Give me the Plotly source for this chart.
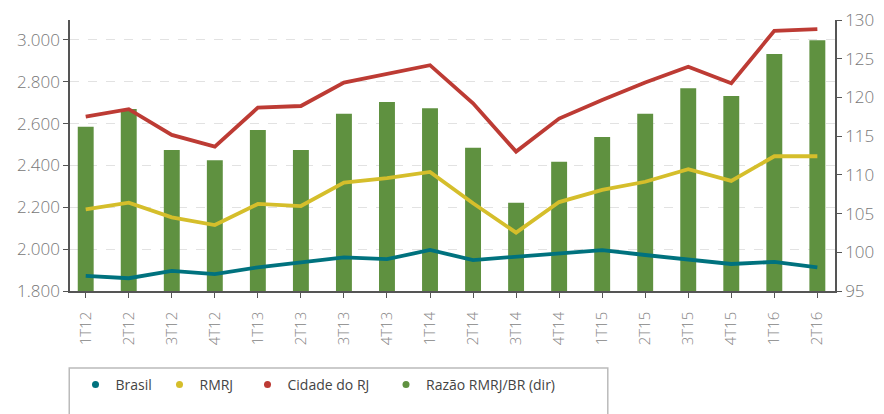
import plotly.graph_objects as go

quarters = ["1T12","2T12","3T12","4T12","1T13","2T13","3T13","4T13","1T14","2T14",
            "3T14","4T14","1T15","2T15","3T15","4T15","1T16","2T16"]
brasil = [1872,1861,1896,1881,1913,1935,1961,1952,1996,1948,1964,1977,1995,1972,1952,1929,1939,1913]
rmrj = [2190,2222,2152,2115,2216,2206,2318,2339,2369,2219,2079,2225,2283,2322,2382,2326,2444,2444]
cidade = [2633,2669,2546,2490,2676,2684,2796,2837,2879,2697,2466,2624,2713,2796,2872,2793,3043,3051]
razao = [116.2,118.5,113.2,111.9,115.8,113.2,117.9,119.4,118.6,113.5,106.4,111.7,114.9,117.9,121.2,120.2,125.6,127.4]

left_ticks = [1800,2000,2200,2400,2600,2800,3000]
right_ticks = [95,100,105,110,115,120,125,130]

C_BR = "#00727E"
C_RM = "#D5BE2B"
C_CI = "#BD3B34"
C_RZ = "#5F9140"

FONT = "Open Sans"
TICKCOL = "#777777"
x = list(range(len(quarters)))

fig = go.Figure()
# bars on primary (right-side) axis, lines on overlaying left axis so lines draw on top
fig.add_trace(go.Bar(x=x, y=razao, yaxis="y", marker=dict(color=C_RZ, line=dict(width=0)),
                     width=0.37, showlegend=False, name="Razão RMRJ/BR (dir)"))
for vals, col, nm in [(brasil, C_BR, "Brasil"), (rmrj, C_RM, "RMRJ"), (cidade, C_CI, "Cidade do RJ")]:
    fig.add_trace(go.Scatter(x=x, y=vals, yaxis="y2", mode="lines", line=dict(color=col, width=3.8),
                             showlegend=False, name=nm))

# legend entries (dots), each in its own legend so they can be placed individually
legend_items = [(C_BR, "Brasil"), (C_RM, "RMRJ"), (C_CI, "Cidade do RJ"), (C_RZ, "Razão RMRJ/BR (dir)")]
legend_px = [75.5, 159.5, 247.5, 386]
legend_ids = ["legend", "legend2", "legend3", "legend4"]
for (col, nm), lid in zip(legend_items, legend_ids):
    fig.add_trace(go.Scatter(x=[None], y=[None], yaxis="y2", mode="markers", name=nm, legend=lid,
                             marker=dict(color=col, size=7, symbol="circle")))

tf = dict(family=FONT, size=17, color=TICKCOL, weight=300)

layout_legends = {}
for lid, px in zip(legend_ids, legend_px):
    layout_legends[lid] = dict(orientation="h", x=(px - 70) / 765, xref="paper",
                               y=1 - 385 / 414, yref="container",
                               xanchor="left", yanchor="middle",
                               font=dict(family=FONT, size=14, color="#444444"), itemwidth=30,
                               bgcolor="rgba(0,0,0,0)")

fig.update_layout(
    width=884, height=414,
    margin=dict(l=70, r=49, t=20, b=123),
    plot_bgcolor="white", paper_bgcolor="white",
    separators=",.",
    font=dict(family=FONT, color=TICKCOL, size=16),
    xaxis=dict(range=[-0.365, 17.41], tickmode="array", tickvals=x, ticktext=quarters,
               tickangle=-90, tickfont=dict(family=FONT, size=15, color="#858585", weight=300),
               automargin=False, ticklabelstandoff=8,
               showline=True, linecolor="#555555", linewidth=1.5,
               ticks="outside", ticklen=5, tickcolor="#555555", showgrid=False, zeroline=False),
    yaxis=dict(range=[95, 130], side="right", tickmode="array", tickvals=right_ticks, automargin=False,
               showline=True, linecolor="#555555", linewidth=1.5,
               ticks="outside", ticklen=5, tickcolor="#555555", showgrid=False, zeroline=False,
               tickfont=tf),
    yaxis2=dict(range=[1800, 3095], side="left", overlaying="y", tickmode="array", tickvals=left_ticks,
                tickformat=",.0f", automargin=False,
                showline=True, linecolor="#555555", linewidth=1.5,
                ticks="outside", ticklen=5, tickcolor="#555555",
                showgrid=True, gridcolor="#E2E2E2", griddash="dash", gridwidth=1, zeroline=False,
                tickfont=tf),
    shapes=[dict(type="rect", xref="paper", yref="paper", x0=-0.001, x1=0.703, y0=-0.284, y1=-0.5,
                 line=dict(color="#BBBBBB", width=1.5), fillcolor="rgba(0,0,0,0)", layer="below")],
    **layout_legends,
)

fig.write_html("out.html", config={"displayModeBar": False},
               post_script="document.body.style.margin='0';document.body.style.overflow='hidden';")
